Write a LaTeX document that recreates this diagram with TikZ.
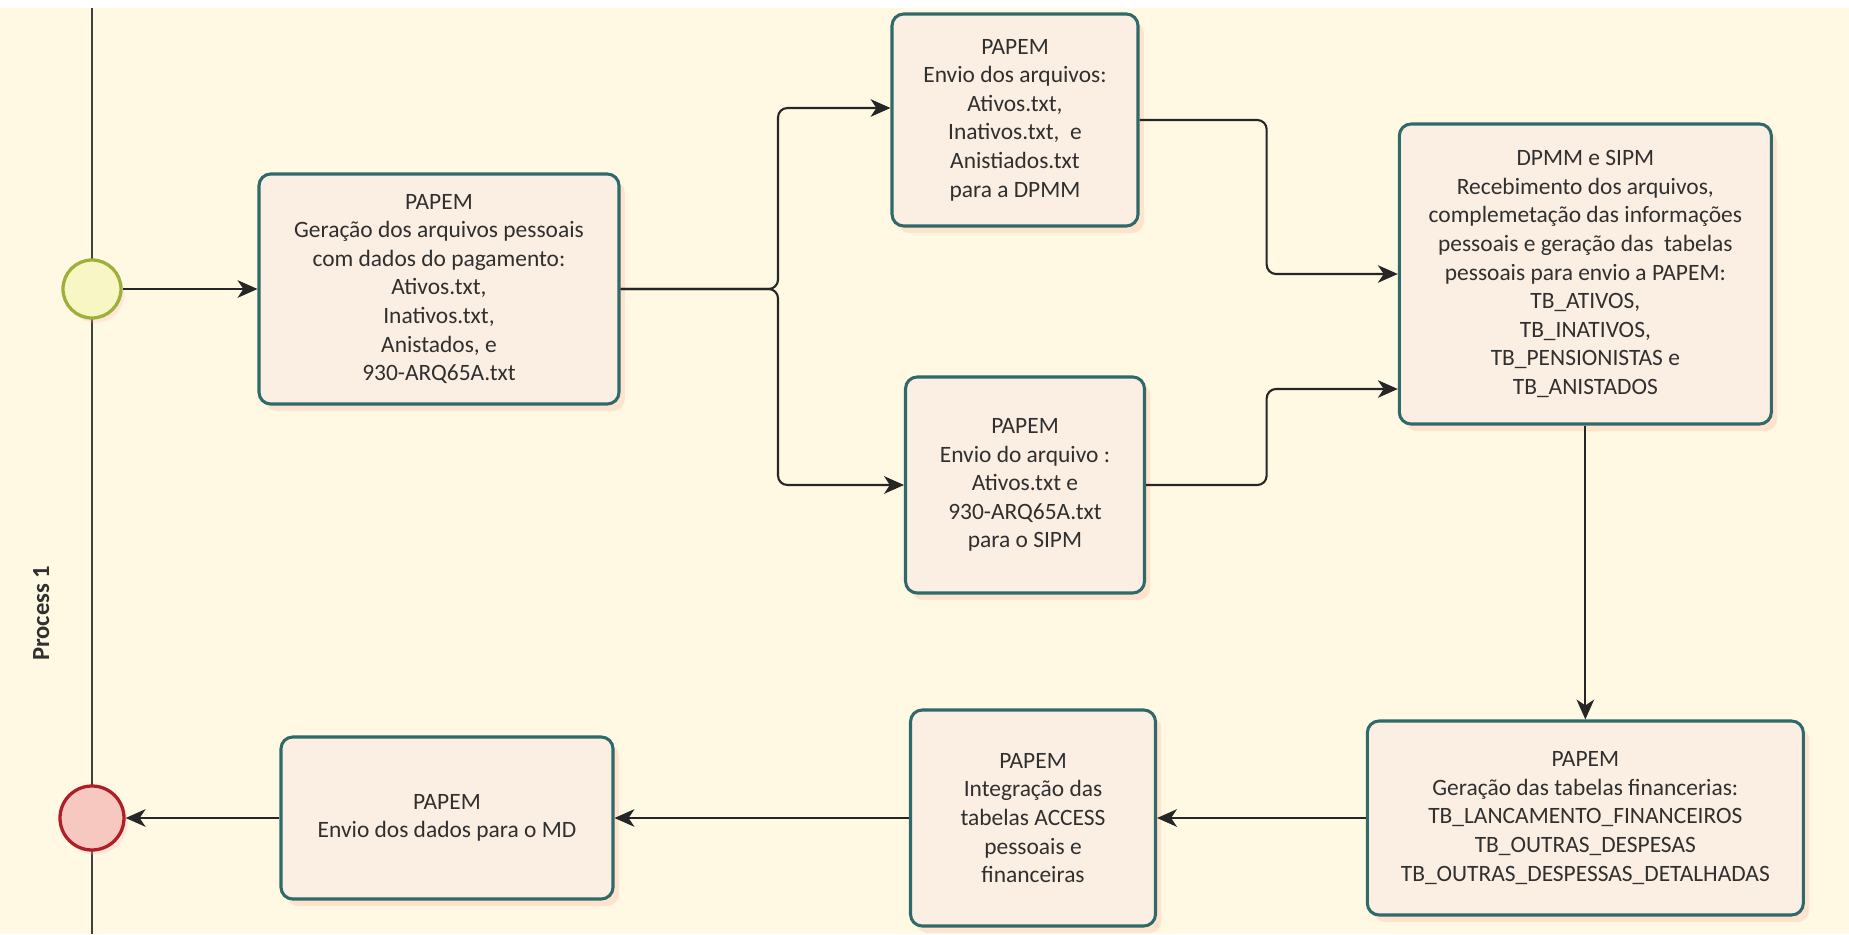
\documentclass[tikz,border=0pt]{standalone}
\usepackage{fontspec}
\setmainfont{Carlito}
\usepackage{xcolor}
\usetikzlibrary{positioning,calc,arrows.meta,shadows}

\definecolor{lanebg}{HTML}{FFF9E4}
\definecolor{taskfill}{HTML}{FBEEE2}
\definecolor{taskline}{HTML}{2E6A6A}
\definecolor{startfill}{HTML}{F8F6C4}
\definecolor{startline}{HTML}{9CB03A}
\definecolor{endfill}{HTML}{F6C8C0}
\definecolor{endline}{HTML}{B01E28}
\definecolor{txt}{HTML}{303030}

\begin{document}
\begin{tikzpicture}[
    task/.style={draw=taskline, line width=1.3pt, fill=taskfill, rounded corners=5pt,
        align=center, text=txt, font=\fontsize{10}{12.2}\selectfont, inner sep=3pt,
        drop shadow={shadow xshift=2.5pt, shadow yshift=-3pt, opacity=0.3, fill=orange!50!red!40}},
    flow/.style={-{Stealth[length=8.5pt,width=7.5pt,inset=2.5pt]}, line width=0.9pt, black!85},
    event/.style={circle, line width=1.4pt, minimum size=#1,
        drop shadow={shadow xshift=1.5pt, shadow yshift=-2pt, opacity=0.25, fill=red!30}}
]
    % Canvas and lane
    \fill[white] (0,0) rectangle (27.735,-14.01);
    \fill[lanebg] (0,-0.12) rectangle (27.735,-14.01);
    \draw[line width=0.8pt, black!75] (1.38,-0.12) -- (1.38,-14.01);
    \node[rotate=90, font=\fontsize{10.5}{12}\selectfont\bfseries, text=txt] (lane) at (0.62,-9.2) {Process 1};

    % Events
    \node[event=0.87cm, draw=startline, fill=startfill] (start) at (1.38,-4.335) {};
    \node[event=0.96cm, draw=endline, fill=endfill] (stop) at (1.38,-12.27) {};

    % Upper tasks
    \node[task, minimum width=5.4cm, minimum height=3.45cm] (gen) at (6.585,-4.335)
        {PAPEM\\Geração dos arquivos pessoais\\com dados do pagamento:\\Ativos.txt,\\Inativos.txt,\\Anistados, e\\930-ARQ65A.txt};
    \node[task, minimum width=3.69cm, minimum height=3.18cm] (envdpmm) at (15.225,-1.8)
        {PAPEM\\Envio dos arquivos:\\Ativos.txt,\\Inativos.txt,~ e\\Anistiados.txt\\para a DPMM};
    \node[task, minimum width=3.585cm, minimum height=3.24cm] (envsipm) at (15.375,-7.275)
        {PAPEM\\Envio do arquivo :\\Ativos.txt e\\930-ARQ65A.txt\\para o SIPM};
    \node[task, minimum width=5.58cm, minimum height=4.5cm] (recv) at (23.78,-4.11)
        {DPMM e SIPM\\Recebimento dos arquivos,\\complemetação das informações\\pessoais e geração das~ tabelas\\pessoais para envio a PAPEM:\\TB\_ATIVOS,\\TB\_INATIVOS,\\TB\_PENSIONISTAS e\\TB\_ANISTADOS};

    % Lower tasks
    \node[task, minimum width=6.54cm, minimum height=2.91cm] (fin) at (23.78,-12.27)
        {PAPEM\\Geração das tabelas financerias:\\TB\_LANCAMENTO\_FINANCEIROS\\TB\_OUTRAS\_DESPESAS\\TB\_OUTRAS\_DESPESSAS\_DETALHADAS};
    \node[task, minimum width=3.675cm, minimum height=3.24cm] (integ) at (15.495,-12.27)
        {PAPEM\\Integração das\\tabelas ACCESS\\pessoais e\\financeiras};
    \node[task, minimum width=4.98cm, minimum height=2.43cm] (envmd) at (6.705,-12.27)
        {PAPEM\\Envio dos dados para o MD};

    % Split and merge points
    \coordinate (split) at (11.67,-4.335);
    \coordinate (merge) at (19.0,0);
    \coordinate (dpmmin) at ([yshift=0.18cm]envdpmm.west);
    \coordinate (recvlow) at ([yshift=-1.725cm]recv.west);

    % Sequence flows
    \draw[flow] (start) -- (gen);
    \draw[flow, rounded corners=4pt] (gen.east) -- (split) |- (dpmmin);
    \draw[flow, rounded corners=4pt] (gen.east) -- (split) |- (envsipm.west);
    \draw[flow, rounded corners=4pt] (envdpmm.east) -- (envdpmm.east -| merge) -- (merge |- recv.west) -- (recv.west);
    \draw[flow, rounded corners=4pt] (envsipm.east) -- (envsipm.east -| merge) -- (merge |- recvlow) -- (recvlow);
    \draw[flow] (recv) -- (fin);
    \draw[flow] (fin) -- (integ);
    \draw[flow] (integ) -- (envmd);
    \draw[flow] (envmd) -- (stop);

\end{tikzpicture}
\end{document}
